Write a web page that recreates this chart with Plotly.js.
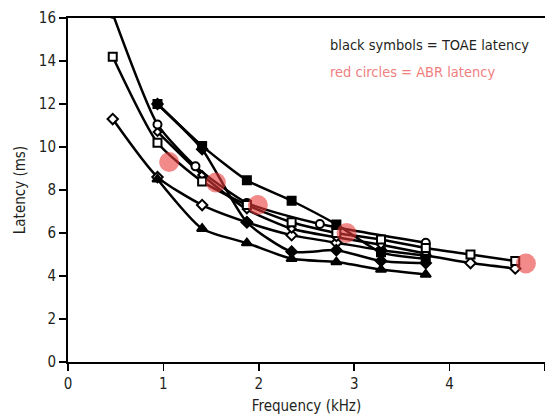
<!DOCTYPE html>
<html>
<head>
<meta charset="utf-8">
<script src="https://cdn.plot.ly/plotly-3.0.1.min.js"></script>
<style>
html,body{margin:0;padding:0;background:#fff}
#chart{width:545px;height:415px}
#chart text{font-stretch:condensed}
</style>
</head>
<body>
<div id="chart"></div>
<script>
// TOAE latency series (black symbols)
var osFreq = [0.469, 0.938, 1.406, 1.875, 2.344, 2.813, 3.281, 3.75, 4.219, 4.688];
var osLat  = [14.2, 10.2, 8.4, 7.3, 6.5, 6.0, 5.7, 5.3, 5.0, 4.7];

var fsFreq = [0.938, 1.406, 1.875, 2.344, 2.813, 3.281, 3.75];
var fsLat  = [12.0, 10.05, 8.45, 7.5, 6.4, 5.1, 4.8];

var ocFreq = [0.469, 0.938, 1.336, 1.875, 2.64, 3.75];
var ocLat  = [16.2, 11.05, 9.1, 7.4, 6.42, 5.55];

var odFreq = [0.469, 0.938, 1.406, 1.875, 2.344, 2.813, 3.281, 3.75, 4.219, 4.688];
var odLat  = [11.3, 8.6, 7.3, 6.5, 5.9, 5.55, 5.2, 4.95, 4.6, 4.35];

var fdFreq = [0.938, 1.406, 1.875, 2.344, 2.813, 3.281, 3.75];
var fdLat  = [12.0, 9.9, 6.5, 5.13, 5.2, 4.7, 4.6];

var ftFreq = [0.938, 1.406, 1.875, 2.344, 2.813, 3.281, 3.75];
var ftLat  = [8.5, 6.2, 5.53, 4.8, 4.65, 4.3, 4.07];

var xdFreq = [0.938, 1.406, 1.875, 2.344, 2.813, 3.281, 3.75];
var xdLat  = [10.7, 8.7, 7.1, 6.2, 5.8, 5.45, 5.05];

// ABR latency (red circles)
var abrFreq = [1.06, 1.55, 1.99, 2.92, 4.80];
var abrLat  = [9.3, 8.35, 7.3, 6.0, 4.58];

var xTicks = [0, 1, 2, 3, 4, 5];
var yTicks = [0, 2, 4, 6, 8, 10, 12, 14, 16];

var FONT = 'DejaVu Sans Condensed, DejaVu Sans, sans-serif';

function toae(x, y, symbol, fill, size) {
  return {
    x: x, y: y, type: 'scatter', mode: 'lines+markers',
    line: {color: '#000', width: 2.5, shape: 'spline', smoothing: 0.6},
    marker: {symbol: symbol, size: size, color: fill, line: {color: '#000', width: 2}},
    hoverinfo: 'skip', showlegend: false
  };
}

var data = [
  toae(odFreq, odLat, 'diamond', '#fff', 8),
  toae(ftFreq, ftLat, 'triangle-up', '#000', 9),
  toae(fdFreq, fdLat, 'diamond', '#000', 8),
  toae(xdFreq, xdLat, 'diamond', '#fff', 6),
  toae(ocFreq, ocLat, 'circle', '#fff', 8),
  toae(osFreq, osLat, 'square', '#fff', 8),
  toae(fsFreq, fsLat, 'square', '#000', 8),
  {
    x: abrFreq, y: abrLat, type: 'scatter', mode: 'markers',
    marker: {symbol: 'circle', size: 20, color: 'rgba(235,60,60,0.6)', line: {width: 0}},
    hoverinfo: 'skip', showlegend: false
  }
];

var layout = {
  width: 545, height: 415,
  margin: {l: 68, r: 0, t: 18, b: 53},
  paper_bgcolor: '#fff', plot_bgcolor: '#fff',
  font: {family: FONT, size: 14, color: '#231f20'},
  xaxis: {
    range: [0, 5], tickvals: xTicks, ticktext: xTicks.map(String),
    showgrid: false, zeroline: false,
    showline: true, linecolor: '#000', linewidth: 2, mirror: true,
    ticks: 'outside', ticklen: 7, tickwidth: 1.5, tickcolor: '#000',
    tickfont: {family: FONT, size: 15, color: '#231f20'},
    title: {text: 'Frequency (kHz)', font: {family: FONT, size: 15, color: '#231f20'}, standoff: 10}
  },
  yaxis: {
    range: [0, 16], tickvals: yTicks, ticktext: yTicks.map(String),
    showgrid: false, zeroline: false,
    showline: true, linecolor: '#000', linewidth: 2,
    ticks: 'outside', ticklen: 7, tickwidth: 1.5, tickcolor: '#000',
    tickfont: {family: FONT, size: 15, color: '#231f20'},
    title: {text: 'Latency (ms)', font: {family: FONT, size: 15, color: '#231f20'}, standoff: 10}
  },
  annotations: [
    {xref: 'paper', yref: 'paper', x: 0.545, y: 0.921, xanchor: 'left', yanchor: 'middle',
     text: 'black symbols = TOAE latency', showarrow: false,
     font: {family: FONT, size: 14.5, color: '#231f20'}},
    {xref: 'paper', yref: 'paper', x: 0.545, y: 0.843, xanchor: 'left', yanchor: 'middle',
     text: 'red circles = ABR latency', showarrow: false,
     font: {family: FONT, size: 14.5, color: '#f08080'}}
  ]
};

Plotly.newPlot('chart', data, layout, {displayModeBar: false, staticPlot: true});
</script>
</body>
</html>
